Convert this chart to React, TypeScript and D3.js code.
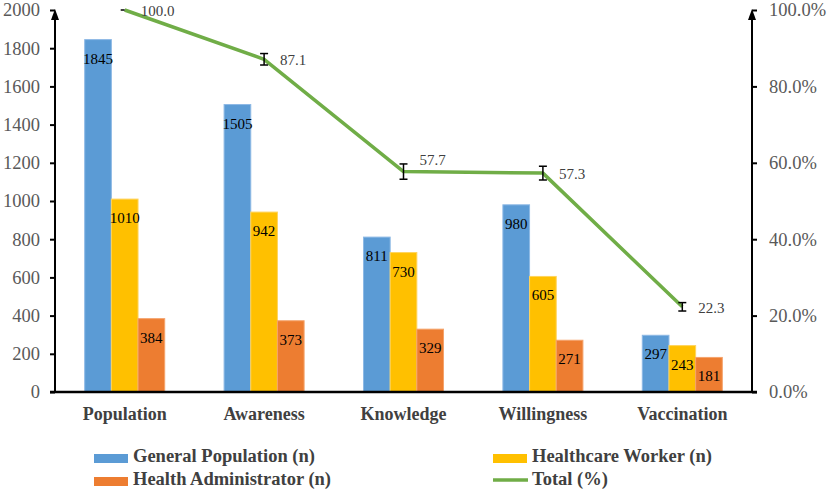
import React, { useEffect, useRef } from "react";
import * as d3 from "d3";

const categories = ["Population", "Awareness", "Knowledge", "Willingness", "Vaccination"];
const seriesNames = ["General Population (n)", "Healthcare Worker (n)", "Health Administrator (n)"];
const generalPopulation = [1845, 1505, 811, 980, 297];
const healthcareWorker = [1010, 942, 730, 605, 243];
const healthAdministrator = [384, 373, 329, 271, 181];
const totalPercent = [100.0, 87.1, 57.7, 57.3, 22.3];
const totalError = [0, 1.5, 2.0, 1.8, 1.1];
const leftTicks = [0, 200, 400, 600, 800, 1000, 1200, 1400, 1600, 1800, 2000];
const rightTicks = [0, 20, 40, 60, 80, 100];

const colors = ["#5B9BD5", "#FFC000", "#ED7D31"];
const strokes = ["#8DB9E5", "#FFD45C", "#F5A36B"];
const lineColor = "#70AD47";
const serif = "'Liberation Serif', 'Times New Roman', serif";

export default function App() {
  const ref = useRef<SVGSVGElement>(null);

  useEffect(() => {
    const W = 829;
    const H = 492;
    const left = 55;
    const right = 752;
    const top = 10;
    const bottom = 392;

    const svg = d3.select(ref.current);
    svg.selectAll("*").remove();
    svg.attr("width", W).attr("height", H);

    const x0 = d3
      .scaleBand()
      .domain(categories)
      .range([left, right])
      .paddingInner(0.426)
      .paddingOuter(0.213);
    const x1 = d3.scaleBand().domain(seriesNames).range([0, x0.bandwidth()]);
    const y = d3.scaleLinear().domain([0, 2000]).range([bottom, top]);
    const yr = d3.scaleLinear().domain([0, 100]).range([bottom, top]);

    const values = [generalPopulation, healthcareWorker, healthAdministrator];

    // bars
    seriesNames.forEach((s, si) => {
      const g = svg.append("g");
      g.selectAll("rect")
        .data(values[si])
        .join("rect")
        .attr("x", (d, i) => (x0(categories[i]) as number) + (x1(s) as number))
        .attr("y", (d) => y(d))
        .attr("width", x1.bandwidth())
        .attr("height", (d) => bottom - y(d))
        .attr("fill", colors[si])
        .attr("stroke", strokes[si])
        .attr("stroke-width", 1);
      g.selectAll("text")
        .data(values[si])
        .join("text")
        .attr("x", (d, i) => (x0(categories[i]) as number) + (x1(s) as number) + x1.bandwidth() / 2)
        .attr("y", (d) => y(d) + 24)
        .attr("text-anchor", "middle")
        .style("font-family", serif)
        .style("font-size", "15px")
        .attr("fill", "#000")
        .text((d) => d);
    });

    // left axis
    const yAxis = svg
      .append("g")
      .attr("transform", `translate(${left},0)`)
      .call(
        d3
          .axisLeft(y)
          .tickValues(leftTicks)
          .tickSize(5)
          .tickPadding(10)
          .tickFormat((d) => String(d))
      );
    yAxis.select(".domain").remove();
    yAxis.selectAll("line").attr("stroke", "#000").attr("stroke-width", 2);
    yAxis
      .selectAll("text")
      .style("font-family", serif)
      .style("font-size", "18.5px")
      .attr("fill", "#595959");

    // right axis
    const yrAxis = svg
      .append("g")
      .attr("transform", `translate(${right},0)`)
      .call(
        d3
          .axisRight(yr)
          .tickValues(rightTicks)
          .tickSize(5)
          .tickPadding(12)
          .tickFormat((d) => `${(+d).toFixed(1)}%`)
      );
    yrAxis.select(".domain").remove();
    yrAxis.selectAll("line").attr("stroke", "#000").attr("stroke-width", 2);
    yrAxis
      .selectAll("text")
      .style("font-family", serif)
      .style("font-size", "18.5px")
      .attr("fill", "#595959");

    // axis lines with arrows
    [left, right].forEach((ax) => {
      svg
        .append("line")
        .attr("x1", ax)
        .attr("x2", ax)
        .attr("y1", bottom)
        .attr("y2", top + 6)
        .attr("stroke", "#000")
        .attr("stroke-width", 2);
      svg
        .append("path")
        .attr("d", `M${ax},${top - 1} L${ax - 4},${top + 10} L${ax + 4},${top + 10} Z`)
        .attr("fill", "#000");
    });
    svg
      .append("line")
      .attr("x1", left - 5)
      .attr("x2", right + 5)
      .attr("y1", bottom)
      .attr("y2", bottom)
      .attr("stroke", "#000")
      .attr("stroke-width", 2.5);

    // category labels
    svg
      .append("g")
      .selectAll("text")
      .data(categories)
      .join("text")
      .attr("x", (d) => (x0(d) as number) + x0.bandwidth() / 2)
      .attr("y", 420)
      .attr("text-anchor", "middle")
      .style("font-family", serif)
      .style("font-size", "18px")
      .style("font-weight", "bold")
      .attr("fill", "#404040")
      .text((d) => d);

    // total line
    const cx = (i: number) => (x0(categories[i]) as number) + x0.bandwidth() / 2;
    const line = d3
      .line<number>()
      .x((d, i) => cx(i))
      .y((d) => yr(d));
    svg
      .append("path")
      .datum(totalPercent)
      .attr("d", line)
      .attr("fill", "none")
      .attr("stroke", lineColor)
      .attr("stroke-width", 3.5)
      .attr("stroke-linejoin", "round");

    // error bars
    const eg = svg.append("g").attr("stroke", "#000").attr("stroke-width", 1.5);
    totalPercent.forEach((v, i) => {
      const e = totalError[i];
      const x = cx(i);
      if (e > 0) {
        eg.append("line").attr("x1", x).attr("x2", x).attr("y1", yr(v + e)).attr("y2", yr(v - e));
        eg.append("line").attr("x1", x - 4).attr("x2", x + 4).attr("y1", yr(v + e)).attr("y2", yr(v + e));
        eg.append("line").attr("x1", x - 4).attr("x2", x + 4).attr("y1", yr(v - e)).attr("y2", yr(v - e));
      } else {
        eg.append("line").attr("x1", x - 4).attr("x2", x).attr("y1", yr(v)).attr("y2", yr(v));
      }
    });

    // line labels
    svg
      .append("g")
      .selectAll("text")
      .data(totalPercent)
      .join("text")
      .attr("x", (d, i) => cx(i) + 16)
      .attr("y", (d, i) => yr(d) + (categories[i] === "Knowledge" ? -7 : 6))
      .style("font-family", serif)
      .style("font-size", "15px")
      .attr("fill", "#404040")
      .text((d) => d.toFixed(1));

    // legend
    const legendItems = [
      { name: seriesNames[0], color: colors[0], x: 94, y: 462, type: "rect" },
      { name: seriesNames[1], color: colors[1], x: 493, y: 462, type: "rect" },
      { name: seriesNames[2], color: colors[2], x: 94, y: 485, type: "rect" },
      { name: "Total (%)", color: lineColor, x: 493, y: 485, type: "line" },
    ];
    const lg = svg.append("g");
    legendItems.forEach((it) => {
      if (it.type === "rect") {
        lg.append("rect")
          .attr("x", it.x)
          .attr("y", it.y - 8)
          .attr("width", 34)
          .attr("height", 9)
          .attr("fill", it.color);
      } else {
        lg.append("line")
          .attr("x1", it.x)
          .attr("x2", it.x + 35)
          .attr("y1", it.y - 5)
          .attr("y2", it.y - 5)
          .attr("stroke", it.color)
          .attr("stroke-width", 3.5);
      }
      lg.append("text")
        .attr("x", it.x + 39)
        .attr("y", it.y)
        .style("font-family", serif)
        .style("font-size", "18.5px")
        .style("font-weight", "bold")
        .attr("fill", "#404040")
        .text(it.name);
    });
  }, []);

  return (
    <div>
      <style>{`body{margin:0}`}</style>
      <svg ref={ref} style={{ display: "block" }}></svg>
    </div>
  );
}
